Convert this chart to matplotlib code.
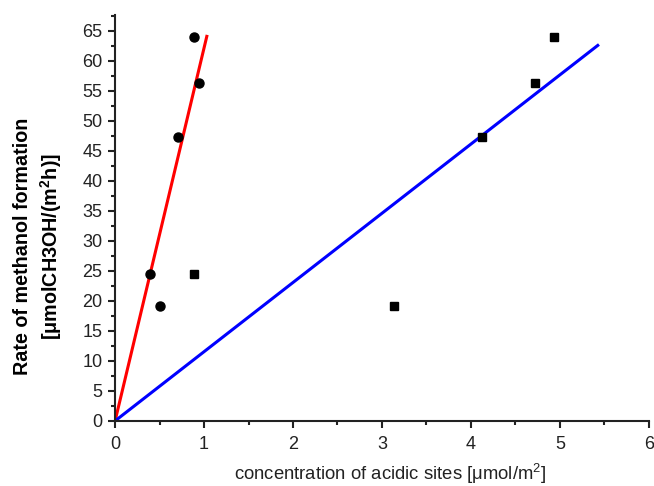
import numpy as np
import matplotlib.pyplot as plt
from matplotlib.ticker import MultipleLocator

# measured points: circles vs. squares
circ_x = [0.39, 0.51, 0.71, 0.89, 0.94]
circ_y = [24.5, 19.1, 47.3, 64.0, 56.3]
sq_x = [0.89, 3.14, 4.13, 4.72, 4.94]
sq_y = [24.5, 19.1, 47.3, 56.3, 64.0]

# linear fits through origin
red_fit_x = [0.0, 1.035]
red_fit_y = [0.0, 64.3]
blue_fit_x = [0.0, 5.44]
blue_fit_y = [0.0, 62.7]


def main():
    plt.rcParams['font.family'] = ['Liberation Sans', 'DejaVu Sans']
    fig = plt.figure(figsize=(6.54, 4.86), dpi=100)
    ax = fig.add_axes([0.176, 0.134, 0.816, 0.835])

    ax.plot(red_fit_x, red_fit_y, color="#ff0000", lw=2.2, solid_capstyle='butt', zorder=2)
    ax.plot(blue_fit_x, blue_fit_y, color="#0000ff", lw=2.2, solid_capstyle='butt', zorder=2)
    ax.plot(circ_x, circ_y, 'o', color='black', markersize=6.5, zorder=3, clip_on=False)
    ax.plot(sq_x, sq_y, 's', color='black', markersize=5.3, zorder=3, clip_on=False)

    ax.set_xlim(0, 6)
    ax.set_ylim(0, 67.6)
    ax.xaxis.set_major_locator(MultipleLocator(1))
    ax.xaxis.set_minor_locator(MultipleLocator(0.5))
    ax.yaxis.set_major_locator(MultipleLocator(5))
    ax.yaxis.set_minor_locator(MultipleLocator(2.5))

    for side in ['top', 'right']:
        ax.spines[side].set_visible(False)
    for side in ['left', 'bottom']:
        ax.spines[side].set_linewidth(1.5)
        ax.spines[side].set_color('#222222')
    ax.tick_params(which='major', direction='out', length=5, width=1.5, labelsize=13, colors='#222222')
    ax.tick_params(which='minor', direction='out', length=3, width=1.5, colors='#222222')
    ax.tick_params(axis='x', pad=6)
    ax.tick_params(axis='y', pad=4)

    ax.set_xlabel(r"concentration of acidic sites [$\mathregular{\mu}$mol/m$^\mathregular{2}$]",
                  fontsize=13.3, color='#222222')
    ax.set_ylabel("Rate of methanol formation\n"
                  r"[$\mathregular{\mu}$molCH3OH/(m$^\mathregular{2}$h)]",
                  fontsize=14.2, fontweight='bold', linespacing=1.3)
    ax.xaxis.set_label_coords(0.515, -0.101)
    ax.yaxis.set_label_coords(-0.0955, 0.43)

    fig.savefig("out.png", dpi=100)
    plt.close(fig)


if __name__ == "__main__":
    main()
